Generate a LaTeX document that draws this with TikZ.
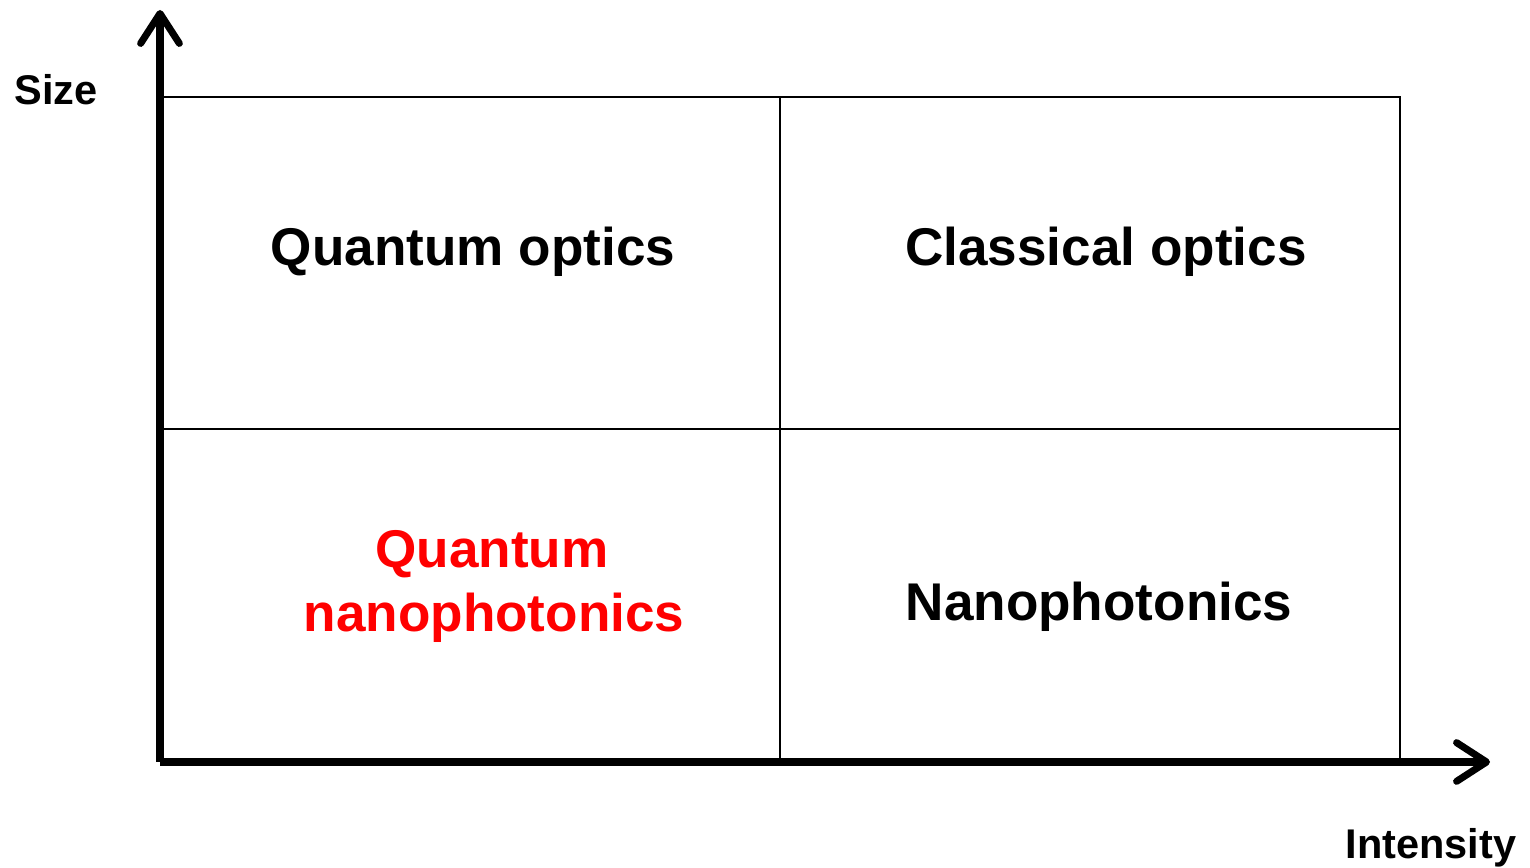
\documentclass[tikz,border=0pt]{standalone}
\usepackage{fontspec}
\setmainfont{Liberation Sans}
\usetikzlibrary{arrows.meta}
\tikzset{
  axis/.style={line width=2pt,-{Straight Barb[length=8.5pt,width=11pt,round]}},
  cell/.style={line width=0.6pt},
  big/.style={font=\fontsize{15.1}{18}\bfseries\selectfont,anchor=base,inner sep=0pt},
  small/.style={font=\fontsize{11.8}{14}\bfseries\selectfont,anchor=base,inner sep=0pt}
}

\begin{document}
\begin{tikzpicture}[x=0.01cm,y=-0.01cm]
  \useasboundingbox (0,0) rectangle (1530,868);
  \coordinate (O)  at (160,762);
  \coordinate (Y)  at (160,10);
  \coordinate (X)  at (1490,762);
  \coordinate (TL) at (163,97);
  \coordinate (BR) at (1400,762);
  \coordinate (Mt) at (780,97);
  \coordinate (Mb) at (780,762);
  \coordinate (Ml) at (163,429);
  \coordinate (Mr) at (1400,429);

  % cells
  \draw[cell] (TL) rectangle (BR);
  \draw[cell] (Mt) -- (Mb);
  \draw[cell] (Ml) -- (Mr);

  % axes
  \draw[axis] (O) -- (Y);
  \draw[axis] (O) -- (X);

  \node[small] (size) at (56,105)   {Size};
  \node[small] (ints) at (1431,859) {Intensity};

  \node[big] (qo) at (473,266)  {Quantum optics};
  \node[big] (co) at (1106,266) {Classical optics};
  \node[big,red] (qn1) at (492,568) {Quantum};
  \node[big,red] (qn2) at (494,632) {nanophotonics};
  \node[big] (np) at (1099,621) {Nanophotonics};
\end{tikzpicture}
\end{document}
